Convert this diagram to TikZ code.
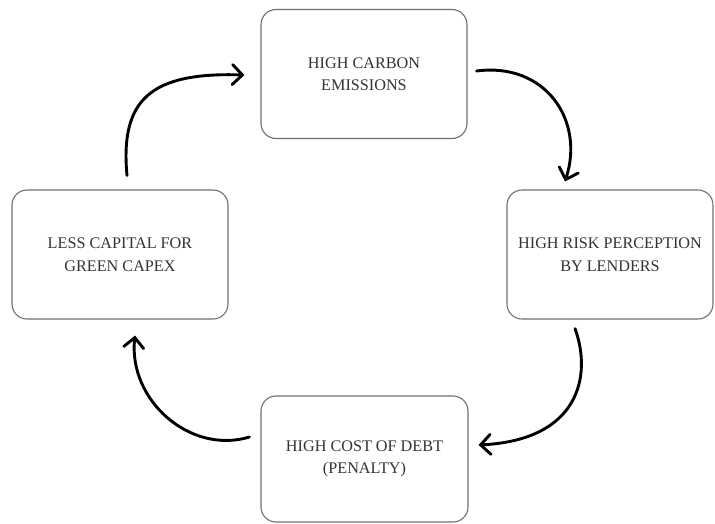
\documentclass[tikz,border=0pt]{standalone}
\usepackage{fontspec}
\setmainfont{Liberation Serif}
\usetikzlibrary{arrows.meta,calc}
\definecolor{boxline}{HTML}{707070}
\definecolor{boxtext}{HTML}{333333}
\begin{document}
\begin{tikzpicture}[x=1pt,y=-1pt,
  stagebox/.style={draw=boxline, line width=1.1pt, rounded corners=15pt,
    minimum width=206pt, minimum height=129pt, inner sep=0pt, align=center,
    text=boxtext, font=\fontsize{16.2}{22.5}\selectfont},
  cyclearrow/.style={draw=black, line width=2.9pt, line cap=round,
    -{Straight Barb[length=10pt,width=20pt,line cap=round]}}]
\useasboundingbox (0,0) rectangle (715,523);
\node[stagebox] (top) at (364,74) {HIGH CARBON\\EMISSIONS};
\node[stagebox] (right) at (610,254.5) {HIGH RISK PERCEPTION\\BY LENDERS};
\node[stagebox, minimum width=216pt] (left) at (120,254.5) {LESS CAPITAL FOR\\GREEN CAPEX};
\node[stagebox, minimum width=207pt, minimum height=126pt] (bottom) at (364.5,459) {HIGH COST OF DEBT\\(PENALTY)};
\draw[cyclearrow] ($(top.east)+(9,-3)$) .. controls (545,62) and (585,120) .. ($(right.north)+(-45,-8)$);
\draw[cyclearrow] ($(right.south)+(-35,9)$) .. controls (592,375) and (580,440) .. ($(bottom.east)+(10,-14)$);
\draw[cyclearrow] ($(bottom.west)+(-11,-22)$) .. controls (190,455) and (128,400) .. ($(left.south)+(15,16)$);
\draw[cyclearrow] ($(left.north)+(7,-14)$) .. controls (120,100) and (150,72) .. ($(top.west)+(-16,1)$);
\end{tikzpicture}
\end{document}
